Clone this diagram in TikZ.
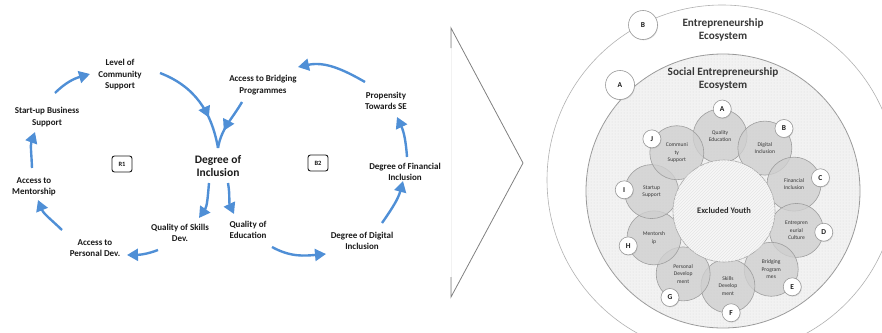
\documentclass[tikz,border=0pt]{standalone}
\usepackage{fontspec}
\setmainfont{Carlito}
\usetikzlibrary{arrows.meta,decorations.markings,patterns,shadows,calc}

\definecolor{flow}{HTML}{4F8FD6}
\definecolor{ink}{HTML}{1A1A1A}

\begin{document}
\begin{tikzpicture}[x=1pt,y=-1pt,
  lbl/.style={font=\bfseries\fontsize{9}{11.5}\selectfont, align=center, inner sep=0pt, text=ink},
  hub/.style={font=\bfseries\fontsize{11.5}{13}\selectfont, align=center, inner sep=0pt, text=ink},
  loopbox/.style={draw=ink, line width=0.9pt, rounded corners=2.5pt, minimum width=20pt,
    minimum height=16pt, inner sep=0pt, font=\bfseries\fontsize{6.5}{7}\selectfont, text=ink},
  link/.style={draw=flow, line width=2.4pt, -{Triangle[length=11pt,width=12pt]}},
  midhead/.style={draw=flow, line width=2.4pt, postaction={decorate},
    decoration={markings, mark=at position #1 with {\arrow{Triangle[length=11pt,width=12pt,color=flow]}}}},
  petal/.style={circle, minimum size=54pt, inner sep=0pt, fill=black!19, fill opacity=0.8,
    text opacity=1, draw=black!38, line width=0.6pt, align=center,
    font=\fontsize{5.6}{7.4}\selectfont, text=black!78},
  tag/.style={circle, minimum size=18pt, inner sep=0pt, fill=white, draw=black!40, line width=0.6pt,
    drop shadow={shadow xshift=0.6pt, shadow yshift=-0.8pt, opacity=0.25},
    font=\bfseries\fontsize{7.5}{8}\selectfont, text=ink},
  bigtag/.style={tag, minimum size=29pt, font=\bfseries\fontsize{7.5}{8}\selectfont},
  ttl/.style={font=\bfseries\fontsize{11.2}{12.5}\selectfont, align=center, inner sep=0pt, text=black!78}
]
\useasboundingbox (0,0) rectangle (882,332);
\clip (0,0) rectangle (882,332);

% ---------- causal loop diagram ----------
\node[lbl] (lc)  at (120,75)  {Level of\\Community\\Support};
\node[lbl] (sb)  at (47,117)  {Start-up Business\\Support};
\node[lbl] (am)  at (34,187)  {Access to\\Mentorship};
\node[lbl] (apd) at (95,248)  {Access to\\Personal Dev.};
\node[lbl] (qsd) at (180,233) {Quality of Skills\\Dev.};
\node[hub] (di)  at (218,166) {Degree of\\Inclusion};
\node[lbl] (qe)  at (248,230) {Quality of\\Education};
\node[lbl] (ddi) at (362,241) {Degree of Digital\\Inclusion};
\node[lbl] (dfi) at (405,172) {Degree of Financial\\Inclusion};
\node[lbl] (pts) at (386,101) {Propensity\\Towards SE};
\node[lbl] (abp) at (263,85)  {Access to Bridging\\Programmes};
\node[loopbox] (r1) at (122,164) {R1};
\node[loopbox] (b2) at (318,163) {B2};

% reinforcing loop R1
\draw[link] ($(sb)+(8,-24)$)   to[out=45,in=196]  ($(lc)+(-30,-1)$);
\draw[link] ($(am)+(-2,-19)$)  to[out=92,in=250]  ($(sb)+(-12,15)$);
\draw[link] ($(apd)+(-33,-18)$) to[out=136,in=292] ($(am)+(4,13)$);
\draw[link] ($(qsd)+(-22,17)$) to[out=201,in=1]   ($(apd)+(32,7)$);
\draw[midhead=0.68] ($(lc)+(40,-2)$) to[out=-21,in=100] ($(di)+(0,-18)$);
\draw[link] ($(di)+(-9,17)$)   to[out=-95,in=55]  ($(qsd)+(19,-15)$);
% balancing loop B2
\draw[link] ($(di)+(10,17)$)   to[out=-80,in=115] ($(qe)+(-14,-16)$);
\draw[link] ($(qe)+(24,17)$)   to[out=331,in=185] ($(ddi)+(-36,13)$);
\draw[link] ($(ddi)+(20,-18)$) to[out=55,in=255]  ($(dfi)+(-2,9)$);
\draw[link] ($(dfi)+(2,-15)$)  to[out=94,in=295]  ($(pts)+(11,16)$);
\draw[link] ($(pts)+(-21,-19)$) to[out=150,in=12] ($(abp)+(35,-18)$);
\draw[midhead=0.65] ($(abp)+(-21,17)$) to[out=-120,in=80] ($(di)+(0,-18)$);

% ---------- chevron ----------
\coordinate (cvt) at (451,28);
\coordinate (cvb) at (451,297);
\coordinate (cvtip) at (523,163);
\draw[black!5, line width=0.5pt] (cvt) -- (cvb);
\draw[black!50, line width=0.8pt] ($(cvt)+(0,20)$) -- (cvt) -- (cvtip) -- (cvb) -- ($(cvb)+(0,-20)$);

% ---------- ecosystem rings ----------
\node[circle, minimum size=350pt, inner sep=0pt, fill=white, draw=black!30, line width=0.6pt]
  (eco) at (722,180) {};
\node[circle, minimum size=274pt, inner sep=0pt, fill=black!5, draw=black!40, line width=0.8pt,
  postaction={pattern=dots, pattern color=black!14}] (seco) at (723,191) {};

\node[ttl] (t1) at (723,30) {Entrepreneurship\\Ecosystem};
\node[ttl] (t2) at (723,79) {Social Entrepreneurship\\Ecosystem};

\node[bigtag] (tb) at (643,25) {B};
\node[bigtag] (ta) at (620,85) {A};

% petals around the core
\foreach \ang/\txt [count=\i] in {
   93/{Quality\\Education},
   57/{Digital\\Inclusion},
   21/{Financial\\Inclusion},
  -15/{Entrepren\\eurial\\Culture},
  -51/{Bridging\\Program\\mes},
  -87/{Skills\\Develop\\ment},
 -123/{Personal\\Develop\\ment},
 -159/{Mentorsh\\ip},
  165/{Startup\\Support},
  129/{Communi\\ty\\Support}}
  \node[petal] (p\i) at ({724+75*cos(\ang)},{211-75*sin(\ang)}) {\txt};

\node[circle, minimum size=102pt, inner sep=0pt, fill=black!3, draw=black!35, line width=0.6pt,
  postaction={pattern=north east lines, pattern color=black!10},
  font=\bfseries\fontsize{8.5}{9}\selectfont, text=black!82] (core) at (724,211) {Excluded Youth};

\foreach \ang/\l in {91/A,54/B,19/C,-12/D,-48/E,-86/F,-122/G,-160/H,168/I,135/J}
  \node[tag] (k\l) at ({724+102*cos(\ang)},{211-102*sin(\ang)}) {\l};
\end{tikzpicture}
\end{document}
